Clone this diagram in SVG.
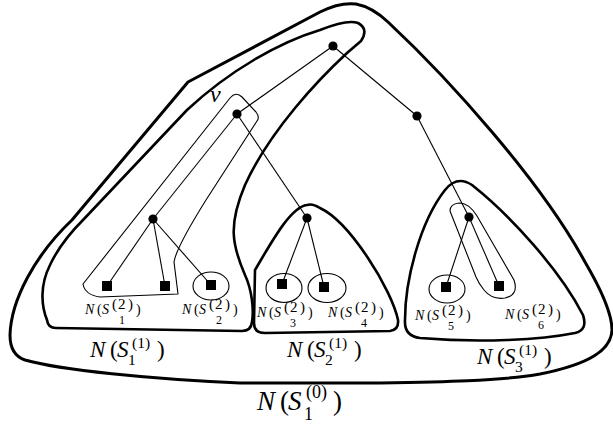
<svg xmlns="http://www.w3.org/2000/svg" width="613" height="425" viewBox="0 0 613 425">
<style>
.thick{fill:none;stroke:#000;stroke-width:2.6;stroke-linejoin:round}
.outer{fill:none;stroke:#000;stroke-width:3;stroke-linejoin:round}
.thin{fill:none;stroke:#000;stroke-width:1.1;stroke-linejoin:round}
.edge{stroke:#000;stroke-width:1.1}
.dot{fill:#000}
.sq{fill:#000}
.t{font-family:"Liberation Serif","Times New Roman",serif;fill:#000}
.it{font-style:italic}
.sm{font-size:14px}
.smsup{font-size:15px}
.smsub{font-size:12px}
.big{font-size:23px}
.bigs{font-size:15.5px}
</style>
<rect width="613" height="425" fill="#fff"/>
<g id="regions">
<path id="N_S10" class="outer" d="M188,82 L320,12 Q340,2 356,4 Q372,7 388,22 C450,80 540,180 585,262 Q612,308 612,330 C611,350 590,364 540,374 C500,381 440,382 380,383 L240,383 C150,379 60,370 25,360 Q10,355 10,335 C11,300 35,255 72,220 Z"/>
<path id="N_S11" class="thick" d="M47,320 C41,305 40,285 50,265 C58,248 70,233 83,220 L187,110 C230,70 280,42 320,30 C335,24 350,20 358,23 Q369,29 361,41 L347,53 C320,78 270,130 245,185 C228,225 232,245 245,275 C252,290 254,310 252,322 Q251,331 242,331 L56,328 Q48,328 47,320 Z"/>
<path id="N_S21" class="thick" d="M307,205 C290,207 270,245 255,270 L254,323 Q254,333 265,333 L390,331 Q399,330 398,320 C392,290 350,222 320,208 Q312,203 307,205 Z"/>
<path id="N_S31" class="thick" d="M405,320 C405,280 420,222 445,190 Q457,175 472,185 C510,215 560,270 583,315 Q588,330 575,333 C540,340 480,343 420,338 Q404,336 405,320 Z"/>
<path id="N_S12" class="thin" d="M83,284 L230,98 Q236,91 242,97 L256,112 Q260,117 257,121 L206,200 Q176,248 174,262 L178,294 L100,297 Q85,295 83,284 Z"/>
<path id="N_S62" class="thin" d="M450,211 Q450,204 459,203 Q469,203 477,216 L514,280 Q519,295 505,298 Q492,300 484,290 Q479,284 476,277 Z"/>
<ellipse id="N_S22" class="thin" cx="211" cy="286" rx="18" ry="14"/>
<ellipse id="N_S32" class="thin" cx="284" cy="288" rx="18" ry="14.5"/>
<ellipse id="N_S42" class="thin" cx="327" cy="288" rx="19" ry="14.5"/>
<ellipse id="N_S52" class="thin" cx="447" cy="289" rx="18" ry="14"/>
</g>
<g id="connectors">
<line class="edge" x1="333" y1="46" x2="237" y2="114"/>
<line class="edge" x1="333" y1="46" x2="417" y2="116"/>
<line class="edge" x1="237" y1="114" x2="153" y2="219"/>
<line class="edge" x1="237" y1="114" x2="307" y2="218"/>
<line class="edge" x1="417" y1="116" x2="469" y2="217"/>
<line class="edge" x1="153" y1="219" x2="107" y2="286"/>
<line class="edge" x1="153" y1="219" x2="165" y2="286"/>
<line class="edge" x1="153" y1="219" x2="211" y2="285"/>
<line class="edge" x1="307" y1="218" x2="282" y2="284"/>
<line class="edge" x1="307" y1="218" x2="324" y2="287"/>
<line class="edge" x1="469" y1="217" x2="446" y2="287"/>
<line class="edge" x1="469" y1="217" x2="499" y2="286"/>
</g>
<g id="n_root"><circle class="dot" cx="333" cy="46" r="4.6"/></g>
<g id="n_v"><circle class="dot" cx="237" cy="114" r="4.6"/></g>
<g id="n_b"><circle class="dot" cx="417" cy="116" r="4.6"/></g>
<g id="n_l"><circle class="dot" cx="153" cy="219" r="4.6"/></g>
<g id="n_m"><circle class="dot" cx="307" cy="218" r="4.6"/></g>
<g id="n_r"><circle class="dot" cx="469" cy="217" r="4.6"/></g>
<g id="leaf1"><rect class="sq" x="102" y="281" width="10" height="10"/></g>
<g id="leaf2"><rect class="sq" x="160" y="281" width="10" height="10"/></g>
<g id="leaf3"><rect class="sq" x="206" y="280" width="10" height="10"/></g>
<g id="leaf4"><rect class="sq" x="277" y="279" width="10" height="10"/></g>
<g id="leaf5"><rect class="sq" x="319" y="282" width="10" height="10"/></g>
<g id="leaf6"><rect class="sq" x="441" y="282" width="10" height="10"/></g>
<g id="leaf7"><rect class="sq" x="494" y="281" width="10" height="10"/></g>
<g id="labels">
<text class="t it" x="210" y="102" font-size="24" fill="#333">v</text>
<text class="t sm" y="314"><tspan class="it" x="85">N</tspan><tspan x="97">(</tspan><tspan class="it" x="102">S</tspan><tspan class="smsup" x="112 118 128" y="309">(2)</tspan><tspan class="smsub" x="119" y="324">1</tspan><tspan x="136" y="314">)</tspan></text>
<text class="t sm" y="314"><tspan class="it" x="182">N</tspan><tspan x="194">(</tspan><tspan class="it" x="199">S</tspan><tspan class="smsup" x="209 215 225" y="309">(2)</tspan><tspan class="smsub" x="216" y="324">2</tspan><tspan x="233" y="314">)</tspan></text>
<text class="t sm" y="317"><tspan class="it" x="257">N</tspan><tspan x="269">(</tspan><tspan class="it" x="274">S</tspan><tspan class="smsup" x="284 290 300" y="312">(2)</tspan><tspan class="smsub" x="290" y="327">3</tspan><tspan x="308" y="317">)</tspan></text>
<text class="t sm" y="317"><tspan class="it" x="328">N</tspan><tspan x="340">(</tspan><tspan class="it" x="345">S</tspan><tspan class="smsup" x="355 361 371" y="312">(2)</tspan><tspan class="smsub" x="361" y="327">4</tspan><tspan x="379" y="317">)</tspan></text>
<text class="t sm" y="320"><tspan class="it" x="415">N</tspan><tspan x="427">(</tspan><tspan class="it" x="432">S</tspan><tspan class="smsup" x="442 448 458" y="315">(2)</tspan><tspan class="smsub" x="448" y="330">5</tspan><tspan x="466" y="320">)</tspan></text>
<text class="t sm" y="319"><tspan class="it" x="505">N</tspan><tspan x="517">(</tspan><tspan class="it" x="522">S</tspan><tspan class="smsup" x="532 538 548" y="314">(2)</tspan><tspan class="smsub" x="538" y="329">6</tspan><tspan x="556" y="319">)</tspan></text>
<text class="t big" y="357"><tspan class="it" x="90">N</tspan><tspan x="110">(</tspan><tspan class="it" x="117">S</tspan><tspan class="bigs" x="132" y="348">(1)</tspan><tspan class="bigs" x="128" y="365">1</tspan><tspan x="157" y="357">)</tspan></text>
<text class="t big" y="357"><tspan class="it" x="287">N</tspan><tspan x="307">(</tspan><tspan class="it" x="314">S</tspan><tspan class="bigs" x="329" y="348">(1)</tspan><tspan class="bigs" x="325" y="365">2</tspan><tspan x="354" y="357">)</tspan></text>
<text class="t big" y="364"><tspan class="it" x="477">N</tspan><tspan x="497">(</tspan><tspan class="it" x="504">S</tspan><tspan class="bigs" x="519" y="355">(1)</tspan><tspan class="bigs" x="515" y="372">3</tspan><tspan x="544" y="364">)</tspan></text>
<text class="t" font-size="27" y="410"><tspan class="it" x="257">N</tspan><tspan x="280">(</tspan><tspan class="it" x="288">S</tspan><tspan font-size="18" x="306" y="398">(0)</tspan><tspan font-size="18" x="304" y="420">1</tspan><tspan x="333" y="410">)</tspan></text>
</g>
</svg>
